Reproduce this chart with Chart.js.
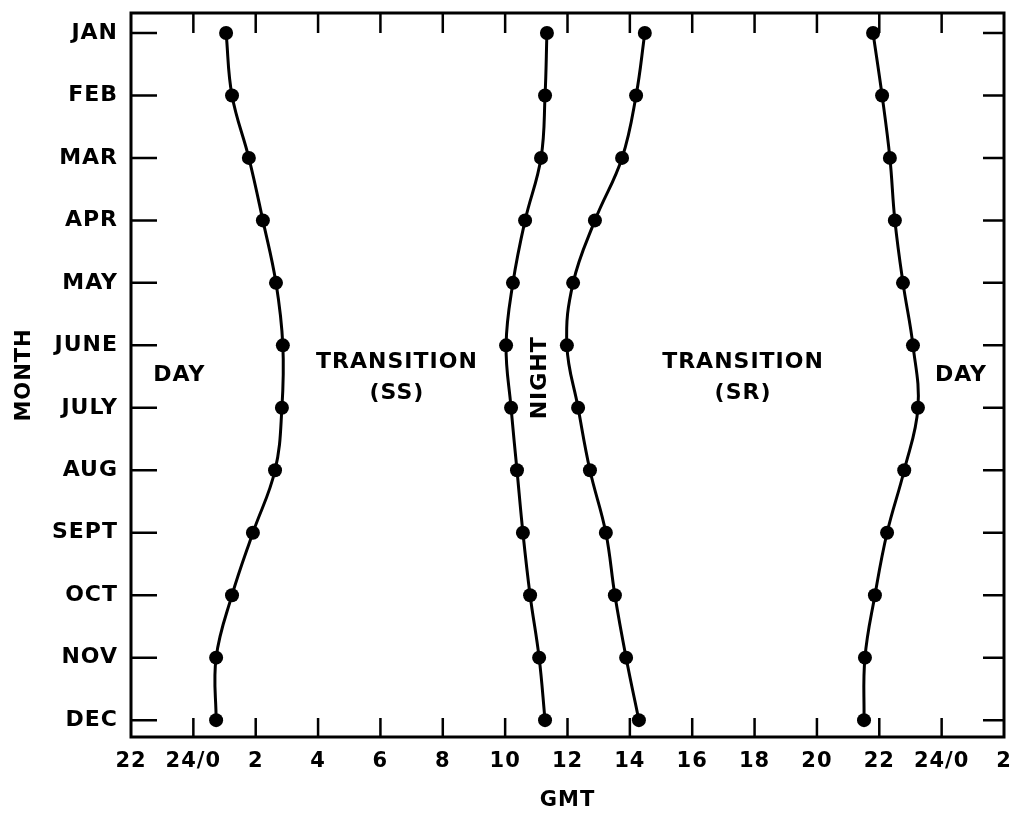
<!DOCTYPE html>
<html>
<head>
<meta charset="utf-8">
<script src="https://cdn.jsdelivr.net/npm/chart.js@4/dist/chart.umd.min.js"></script>
<style>
  html, body { margin: 0; padding: 0; background: #fff; }
  #wrap { width: 1018px; height: 813px; }
</style>
</head>
<body>
<div id="wrap"><canvas id="gmtChart" width="1018" height="813"></canvas></div>
<script>
// month categories (top to bottom)
const months = ['JAN', 'FEB', 'MAR', 'APR', 'MAY', 'JUNE', 'JULY', 'AUG', 'SEPT', 'OCT', 'NOV', 'DEC'];

// hours GMT, one value per month
const sunsetStart  = [1.05, 1.24, 1.78, 2.23, 2.65, 2.87, 2.84, 2.62, 1.91, 1.24, 0.73, 0.73];
const nightStart   = [11.34, 11.28, 11.15, 10.64, 10.25, 10.03, 10.19, 10.38, 10.57, 10.80, 11.09, 11.28];
const nightEnd     = [14.48, 14.20, 13.75, 12.88, 12.18, 11.98, 12.34, 12.72, 13.23, 13.52, 13.88, 14.29];
const sunriseEnd   = [21.80, 22.09, 22.34, 22.50, 22.76, 23.08, 23.24, 22.80, 22.25, 21.86, 21.54, 21.51];

// x tick values (hours, wrapping past midnight)
const hourTicks = [-2, 0, 2, 4, 6, 8, 10, 12, 14, 16, 18, 20, 22, 24, 26];

const FONT = 'DejaVu Sans';

function toPoints(arr) {
  return arr.map((h, i) => ({ x: h, y: i }));
}

function hourLabel(v) {
  if (v === 0 || v === 24) return '24/0';
  if (v < 0) return String(v + 24);
  if (v > 24) return String(v - 24);
  return String(v);
}

function series(arr) {
  return {
    data: toPoints(arr),
    borderColor: '#000',
    backgroundColor: '#000',
    borderWidth: 3,
    pointRadius: 7,
    pointBorderWidth: 0,
    tension: 0.4,
    fill: false
  };
}

// region labels placed in data units (hours, month index)
const regionLabels = [
  { text: ['DAY'], x: -0.45, y: 5.48 },
  { text: ['TRANSITION', '(SS)'], x: 6.53, y: 5.27 },
  { text: ['TRANSITION', '(SR)'], x: 17.63, y: 5.27 },
  { text: ['DAY'], x: 24.62, y: 5.48 }
];

const framePlugin = {
  id: 'frame',
  beforeDraw(chart) {
    chart.ctx.letterSpacing = '1px';
  },
  afterDraw(chart) {
    const { ctx, chartArea: a, scales } = chart;
    const xs = scales.x, ys = scales.y;
    ctx.save();
    ctx.strokeStyle = '#000';
    ctx.lineWidth = 3;
    ctx.strokeRect(a.left, a.top, a.right - a.left, a.bottom - a.top);

    ctx.lineWidth = 2.5;
    ctx.beginPath();
    hourTicks.forEach(v => {
      const px = xs.getPixelForValue(v);
      if (px <= a.left + 2 || px >= a.right - 2) return;
      ctx.moveTo(px, a.top); ctx.lineTo(px, a.top + 20);
      ctx.moveTo(px, a.bottom); ctx.lineTo(px, a.bottom - 19);
    });
    months.forEach((m, i) => {
      const py = ys.getPixelForValue(i);
      ctx.moveTo(a.left, py); ctx.lineTo(a.left + 26, py);
      ctx.moveTo(a.right, py); ctx.lineTo(a.right - 21, py);
    });
    ctx.stroke();

    ctx.fillStyle = '#000';
    ctx.font = 'bold 22px "' + FONT + '"';
    ctx.letterSpacing = '1px';
    ctx.textAlign = 'center';
    ctx.textBaseline = 'middle';
    regionLabels.forEach(l => {
      const px = xs.getPixelForValue(l.x);
      const py = ys.getPixelForValue(l.y);
      l.text.forEach((t, k) => ctx.fillText(t, px, py + k * 31));
    });

    // NIGHT, written upwards between the two night curves
    ctx.translate(xs.getPixelForValue(11.12), ys.getPixelForValue(5.52));
    ctx.rotate(-Math.PI / 2);
    ctx.fillText('NIGHT', 0, 0);
    ctx.restore();
  }
};

new Chart(document.getElementById('gmtChart').getContext('2d'), {
  type: 'line',
  data: {
    datasets: [series(sunsetStart), series(nightStart), series(nightEnd), series(sunriseEnd)]
  },
  options: {
    responsive: false,
    animation: false,
    layout: { padding: { top: 13, right: 14, left: 0, bottom: 0 } },
    plugins: {
      legend: { display: false },
      tooltip: { enabled: false }
    },
    scales: {
      x: {
        type: 'linear',
        min: -2,
        max: 26,
        afterBuildTicks: s => { s.ticks = hourTicks.map(v => ({ value: v })); },
        afterFit: s => {
          s.height = 76;
          s.paddingLeft = 0;
          s.paddingRight = 0;
        },
        grid: { display: false, drawTicks: false },
        border: { display: false },
        ticks: {
          color: '#000',
          padding: 12,
          maxRotation: 0,
          autoSkip: false,
          font: { family: FONT, size: 21, weight: 'bold' },
          callback: v => hourLabel(v)
        },
        title: {
          display: true,
          text: 'GMT',
          color: '#000',
          padding: { top: 0, bottom: 0 },
          font: { family: FONT, size: 21, weight: 'bold' }
        }
      },
      y: {
        type: 'linear',
        reverse: true,
        min: -0.32,
        max: 11.27,
        afterBuildTicks: s => { s.ticks = months.map((m, i) => ({ value: i })); },
        afterFit: s => {
          s.width = 131;
          s.paddingTop = 0;
          s.paddingBottom = 0;
        },
        grid: { display: false, drawTicks: false },
        border: { display: false },
        ticks: {
          color: '#000',
          padding: 13,
          autoSkip: false,
          font: { family: FONT, size: 22, weight: 'bold' },
          callback: v => months[v]
        },
        title: {
          display: true,
          text: 'MONTH',
          color: '#000',
          padding: { top: 12, bottom: 0 },
          font: { family: FONT, size: 21, weight: 'bold' }
        }
      }
    }
  },
  plugins: [framePlugin]
});
</script>
</body>
</html>
